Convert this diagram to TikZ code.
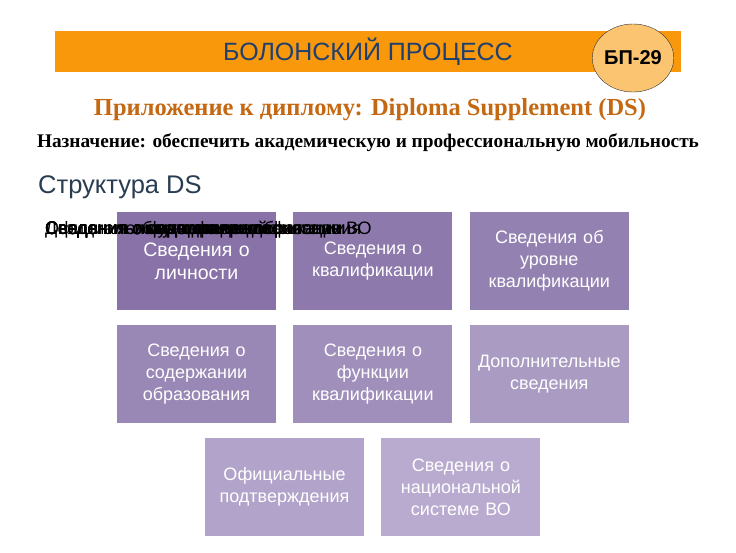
\documentclass[tikz,border=0pt]{standalone}
\usepackage{fontspec}
\setmainfont{Liberation Sans}
\newfontfamily\timesfont{Liberation Serif}
\usetikzlibrary{positioning}
\usetikzlibrary{shapes.geometric}

\definecolor{barorange}{RGB}{250,152,12}
\definecolor{badgefill}{RGB}{251,196,112}
\definecolor{titleblue}{RGB}{31,64,110}
\definecolor{headbrown}{RGB}{196,104,18}
\definecolor{slate}{RGB}{40,60,82}
\definecolor{boxA}{RGB}{137,114,168}
\definecolor{boxB}{RGB}{141,121,172}
\definecolor{boxC}{RGB}{147,129,177}
\definecolor{boxD}{RGB}{153,135,181}
\definecolor{boxE}{RGB}{160,143,187}
\definecolor{boxF}{RGB}{170,155,195}
\definecolor{boxG}{RGB}{178,163,202}
\definecolor{boxH}{RGB}{185,171,207}

\tikzset{
  infobox/.style={rectangle, minimum width=159pt, minimum height=98pt, text width=152pt,
    align=center, text=white, inner sep=0pt, font=\fontsize{18}{22}\selectfont},
  ghost/.style={anchor=base west, inner sep=0pt, text=black, font=\fontsize{18}{20}\selectfont}
}

\begin{document}
\begin{tikzpicture}[x=1pt, y=-1pt]
\useasboundingbox (0,0) rectangle (736,552);

% header bar
\fill[barorange] (55,31) rectangle (681,72);
\node[text=titleblue, font=\fontsize{25}{27}\selectfont] (title) at (368,52) {БОЛОНСКИЙ ПРОЦЕСС};
\node[ellipse, draw=black!80, thin, fill=badgefill, minimum width=76pt, minimum height=68pt,
  inner sep=0pt, font=\bfseries\fontsize{20}{22}\selectfont] (badge) at (633,58) {БП-29};

% headings
\node[text=headbrown, font=\timesfont\bfseries\fontsize{24.5}{27}\selectfont] (supp) at (370,110)
  {Приложение к диплому: Diploma Supplement (DS)};
\node[font=\timesfont\bfseries\fontsize{19.3}{22}\selectfont] (goal) at (368,143)
  {Назначение: обеспечить академическую и профессиональную мобильность};
\node[anchor=west, text=slate, font=\fontsize{25.5}{28}\selectfont, inner sep=0pt] (struct) at (38,187) {Структура DS};

% boxes
\begin{scope}[node distance=15pt and 17pt]
\node[infobox, fill=boxA, font=\fontsize{19.5}{23}\selectfont] (person) at (196.5,261) {Сведения о\\личности};
\node[infobox, fill=boxB, right=of person] (qual) {Сведения о\\квалификации};
\node[infobox, fill=boxC, right=of qual] (level) {Сведения об\\уровне\\квалификации};
\node[infobox, fill=boxD, below=of person] (content) {Сведения о\\содержании\\образования};
\node[infobox, fill=boxE, below=of qual] (func) {Сведения о\\функции\\квалификации};
\node[infobox, fill=boxF, below=of level] (extra) {Дополнительные\\сведения};
\node[infobox, fill=boxG] (official) at (284.5,487) {Официальные\\подтверждения};
\node[infobox, fill=boxH, right=of official] (national) {Сведения о\\национальной\\системе ВО};
\end{scope}

% overlapping labels
\coordinate (ghostpt) at (45,234);
\foreach \txt in {Сведения о личности, Сведения о квалификации, Сведения об уровне квалификации,
  Сведения о содержании образования, Сведения о функции квалификации, Дополнительные сведения,
  Официальные подтверждения, Сведения о национальной системе ВО}
  \node[ghost] at (ghostpt) {\txt};
\end{tikzpicture}
\end{document}
